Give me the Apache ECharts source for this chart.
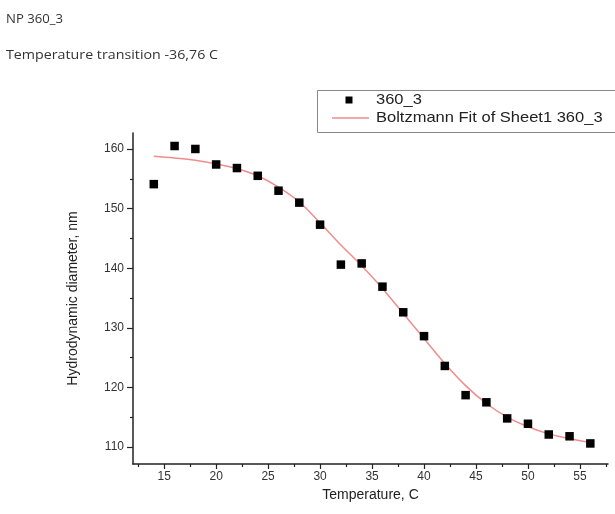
<!DOCTYPE html>
<html>
<head>
<meta charset="utf-8">
<script src="https://cdn.jsdelivr.net/npm/echarts@6/dist/echarts.min.js"></script>
<style>html,body{margin:0;padding:0;background:#fff;}#c{width:615px;height:514px;}</style>
</head>
<body>
<div id="c"></div>
<script>
// Measured data (Temperature, C -> Hydrodynamic diameter, nm)
const temps = [14,16,18,20,22,24,26,28,30,32,34,36,38,40,42,44,46,48,50,52,54,56];
const diam  = [154.1,160.5,160.0,157.4,156.8,155.5,153.0,151.0,147.3,140.6,140.8,136.9,132.6,128.6,123.6,118.7,117.5,114.8,113.9,112.1,111.8,110.6];
// Boltzmann fit curve
const fitX = [14,16,18,20,22,24,26,28,30,32,34,36,38,40,42,44,46,48,50,52,54,56];
const fitY = [158.8,158.5,158.1,157.5,156.7,155.5,153.6,151.1,147.6,143.9,140.4,136.6,132.4,128.2,124.0,120.3,117.3,115.0,113.4,112.2,111.4,110.8];
// Tick labels
const xMajor = [15,20,25,30,35,40,45,50,55];
const xMinor = [12.5,17.5,22.5,27.5,32.5,37.5,42.5,47.5,52.5,57.5];
const yMajor = [110,120,130,140,150,160];
const yMinor = [115,125,135,145,155];
const seriesName = '360_3';
const fitName = 'Boltzmann Fit of Sheet1 360_3';
const titleLines = ['NP 360_3', 'Temperature transition -36,76 C'];

const AX = '#222';
const FONT = 'Liberation Sans, Arial, sans-serif';
const xRange = {min: 12, max: 57.7};
const yRange = {min: 107.15, max: 162.68};

const chart = echarts.init(document.getElementById('c'), null, {renderer: 'canvas'});
chart.setOption({
  backgroundColor: '#fff',
  animation: false,
  grid: {left: 133, top: 133, right: 7, bottom: 50, containLabel: false},
  xAxis: [{
    type: 'value', min: xRange.min, max: xRange.max,
    name: 'Temperature, C', nameLocation: 'middle', nameGap: 20,
    nameTextStyle: {fontFamily: FONT, fontSize: 14, color: '#222'},
    axisLine: {show: true, onZero: false, lineStyle: {color: AX, width: 1.5}},
    axisTick: {show: true, customValues: xMajor, length: 5, lineStyle: {color: AX, width: 1.2}},
    axisLabel: {customValues: xMajor, fontFamily: FONT, fontSize: 12, color: '#333', margin: 7},
    splitLine: {show: false}
  }, {
    type: 'value', min: xRange.min, max: xRange.max, position: 'bottom',
    axisLine: {show: false},
    axisTick: {show: true, customValues: xMinor, length: 3, lineStyle: {color: AX, width: 1.2}},
    axisLabel: {show: false}, splitLine: {show: false}
  }],
  yAxis: [{
    type: 'value', min: yRange.min, max: yRange.max,
    name: 'Hydrodynamic diameter, nm', nameLocation: 'middle', nameGap: 53, nameRotate: 90,
    nameTextStyle: {fontFamily: FONT, fontSize: 14, color: '#222'},
    axisLine: {show: true, onZero: false, lineStyle: {color: AX, width: 1.5}},
    axisTick: {show: true, customValues: yMajor, length: 6, lineStyle: {color: AX, width: 1.2}},
    axisLabel: {customValues: yMajor, fontFamily: FONT, fontSize: 12, color: '#333', margin: 9},
    splitLine: {show: false}
  }, {
    type: 'value', min: yRange.min, max: yRange.max, position: 'left',
    axisLine: {show: false},
    axisTick: {show: true, customValues: yMinor, length: 3, lineStyle: {color: AX, width: 1.2}},
    axisLabel: {show: false}, splitLine: {show: false}
  }],
  series: [{
    name: fitName, type: 'line', smooth: 0.4, showSymbol: false,
    data: fitX.map((x, i) => [x, fitY[i]]),
    lineStyle: {color: '#f08c8c', width: 1.5}, z: 2
  }, {
    name: seriesName, type: 'scatter', symbol: 'rect', symbolSize: 8.5,
    data: temps.map((t, i) => [t, diam[i]]),
    itemStyle: {color: '#000', opacity: 1}, z: 3
  }],
  graphic: [
    {type: 'text', x: 6, y: 19, scaleX: 1.05, style: {text: titleLines[0], font: '12.5px "Open Sans"', fill: '#333', verticalAlign: 'middle'}},
    {type: 'text', x: 6, y: 55, scaleX: 1.14, style: {text: titleLines[1], font: '12.5px "Open Sans"', fill: '#333', verticalAlign: 'middle'}},
    {type: 'rect', shape: {x: 317.5, y: 90.5, width: 310, height: 42}, style: {fill: '#fff', stroke: '#888', lineWidth: 1}, z: 10},
    {type: 'rect', shape: {x: 345.5, y: 96.5, width: 7, height: 7}, style: {fill: '#000'}, z: 11},
    {type: 'line', shape: {x1: 332, y1: 118, x2: 369, y2: 118}, style: {stroke: '#f08c8c', lineWidth: 1.5}, z: 11},
    {type: 'text', x: 376, y: 100, scaleX: 1.1, style: {text: seriesName, font: '15px "Liberation Sans"', fill: '#222', verticalAlign: 'middle'}, z: 11},
    {type: 'text', x: 376, y: 118, scaleX: 1.1, style: {text: fitName, font: '15px "Liberation Sans"', fill: '#222', verticalAlign: 'middle'}, z: 11}
  ]
});
</script>
</body>
</html>
